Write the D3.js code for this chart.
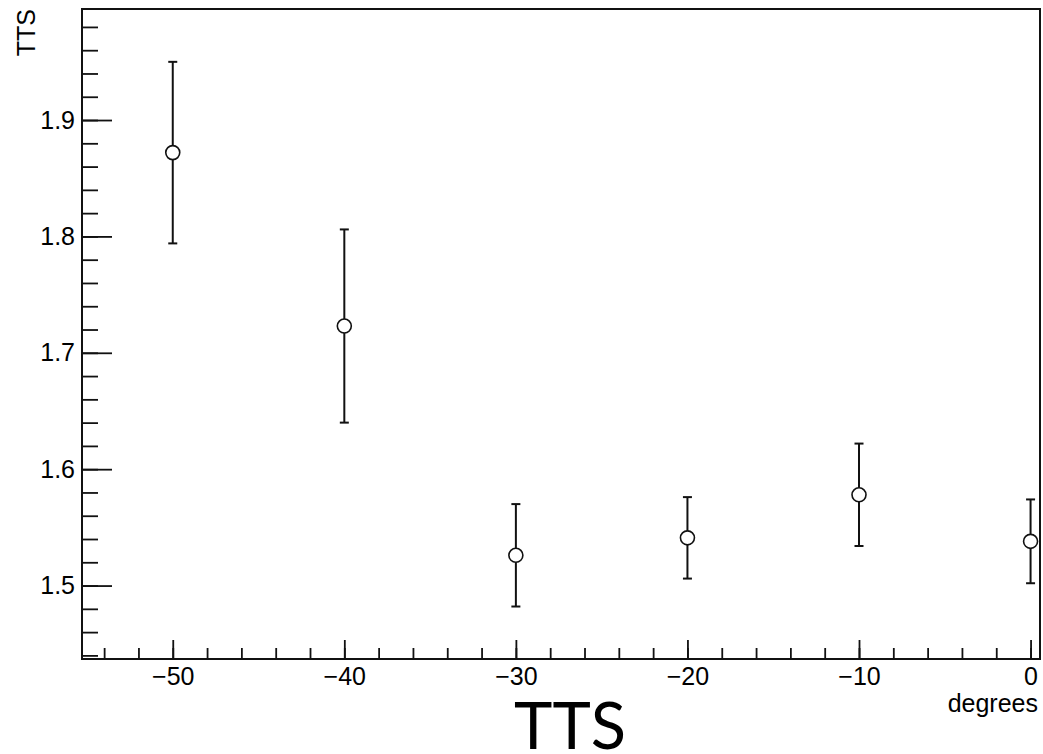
<!DOCTYPE html>
<html lang="en">
<head>
	<meta charset="utf-8">
	<title>TTS vs degrees</title>
	<script src="https://d3js.org/d3.v7.min.js" charset="utf-8"></script>
	<style>
		body { margin: 0; background: #fff; }
		text {
			font-family: "Liberation Sans", Arial, sans-serif;
			fill: #000;
		}
		.axis path { display: none; }
		.axis line { stroke: #111; stroke-width: 1.8; }
	</style>
</head>
<body>
	<div id="chart"></div>
<script>
	// data
	var degrees = [-50, -40, -30, -20, -10, 0];
	var tts = [1.872, 1.723, 1.526, 1.541, 1.578, 1.538];
	var ttsErr = [0.078, 0.083, 0.044, 0.035, 0.044, 0.036];

	// tick labels
	var xTicks = [-50, -40, -30, -20, -10, 0];
	var yTicks = [1.5, 1.6, 1.7, 1.8, 1.9];

	var w = 1043;
	var h = 754;

	// frame edges (don't call these top/left, window.top is taken)
	var frameL = 82, frameR = 1040, frameT = 9, frameB = 659;

	var x = d3.scaleLinear()
		.domain([-55.29, 0.55])
		.range([frameL, frameR]);

	var y = d3.scaleLinear()
		.domain([1.4369, 1.9954])
		.range([frameB, frameT]);

	var svg = d3.select("#chart")
		.append("svg")
		.attr("width", w)
		.attr("height", h);

	// minor ticks
	svg.append("g")
		.attr("class", "axis")
		.attr("transform", "translate(0," + frameB + ")")
		.call(d3.axisBottom(x).tickValues(d3.range(-54, 1, 2)).tickSize(-11).tickFormat(""));

	svg.append("g")
		.attr("class", "axis")
		.attr("transform", "translate(" + frameL + ",0)")
		.call(d3.axisLeft(y).tickValues(d3.range(1.44, 1.995, 0.02)).tickSize(-16).tickFormat(""));

	// major ticks + labels
	var xAxis = svg.append("g")
		.attr("class", "axis")
		.attr("transform", "translate(0," + frameB + ")")
		.call(d3.axisBottom(x).tickValues(xTicks).tickSize(-19).tickPadding(8)
			.tickFormat(function(d){ return d < 0 ? "\u2212" + (-d) : d; }));
	xAxis.selectAll("text").attr("font-size", "25px").attr("fill", "#000");

	var yAxis = svg.append("g")
		.attr("class", "axis")
		.attr("transform", "translate(" + frameL + ",0)")
		.call(d3.axisLeft(y).tickValues(yTicks).tickSize(-30).tickPadding(7).tickFormat(d3.format(".1f")));
	yAxis.selectAll("text").attr("font-size", "25px").attr("fill", "#000");

	// frame
	svg.append("rect")
		.attr("x", frameL)
		.attr("y", frameT)
		.attr("width", frameR - frameL)
		.attr("height", frameB - frameT)
		.attr("fill", "none")
		.attr("stroke", "#111")
		.attr("stroke-width", 2);

	// error bars
	var r = 7;
	var pts = degrees.map(function(d, i){ return {x: d, y: tts[i], e: ttsErr[i]}; });

	var g = svg.append("g")
		.attr("stroke", "#111")
		.attr("stroke-width", 2)
		.attr("fill", "none");

	g.selectAll(".up")
		.data(pts)
		.enter()
		.append("line")
		.attr("x1", function(d){ return x(d.x); })
		.attr("x2", function(d){ return x(d.x); })
		.attr("y1", function(d){ return y(d.y) - r; })
		.attr("y2", function(d){ return y(d.y + d.e); });

	g.selectAll(".down")
		.data(pts)
		.enter()
		.append("line")
		.attr("x1", function(d){ return x(d.x); })
		.attr("x2", function(d){ return x(d.x); })
		.attr("y1", function(d){ return y(d.y) + r; })
		.attr("y2", function(d){ return y(d.y - d.e); });

	// end caps
	[1, -1].forEach(function(s){
		g.selectAll(null)
			.data(pts)
			.enter()
			.append("line")
			.attr("x1", function(d){ return x(d.x) - 4.5; })
			.attr("x2", function(d){ return x(d.x) + 4.5; })
			.attr("y1", function(d){ return y(d.y + s * d.e); })
			.attr("y2", function(d){ return y(d.y + s * d.e); });
	});

	// markers
	g.selectAll("circle")
		.data(pts)
		.enter()
		.append("circle")
		.attr("cx", function(d){ return x(d.x); })
		.attr("cy", function(d){ return y(d.y); })
		.attr("r", r)
		.attr("stroke-width", 1.6);

	// axis titles
	svg.append("text")
		.attr("text-anchor", "end")
		.attr("transform", "translate(35," + frameT + ") rotate(-90)")
		.attr("font-size", "25px")
		.text("TTS");

	svg.append("text")
		.attr("text-anchor", "end")
		.attr("x", frameR - 2)
		.attr("y", 712)
		.attr("font-size", "25px")
		.text("degrees");

	// caption under the plot
	svg.append("text")
		.attr("text-anchor", "middle")
		.attr("x", 570)
		.attr("y", 749)
		.attr("font-size", "65px")
		.style("font-family", "Lato, 'Open Sans', sans-serif")
		.style("fill", "#000")
		.text("TTS");
</script>
</body>
</html>
